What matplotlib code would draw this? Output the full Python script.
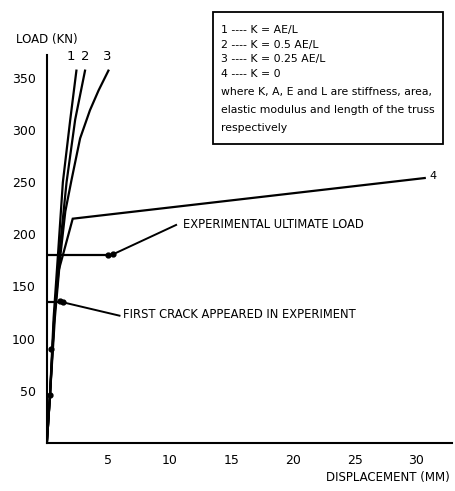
import matplotlib
matplotlib.use("Agg")
import matplotlib.pyplot as plt

# Curve data (displacement mm, load kN)
c1_x = [0, 0.25, 0.55, 0.9, 1.3, 1.9, 2.4]
c1_y = [0, 45, 120, 180, 250, 310, 357]
c2_x = [0, 0.25, 0.6, 1.0, 1.6, 2.3, 3.1]
c2_y = [0, 45, 120, 180, 250, 310, 357]
c3_x = [0, 0.25, 0.65, 1.1, 1.5, 2.0, 2.7, 3.5, 4.2, 5.0]
c3_y = [0, 45, 120, 180, 222, 252, 292, 319, 338, 357]
c4_x = [0, 0.25, 0.6, 0.95, 1.3, 2.1, 30.7]
c4_y = [0, 45, 120, 165, 180, 215, 254]

exp_x = [0.25, 0.33, 1.05, 1.3, 5.0, 5.4]
exp_y = [46, 90, 136, 135, 180, 181]

ult_load = 180
ult_disp = 5.0
crack_load = 135
crack_disp = 1.2

xticks = [5, 10, 15, 20, 25, 30]
yticks = [50, 100, 150, 200, 250, 300, 350]

legend_lines = ["1 ---- K = AE/L",
                "2 ---- K = 0.5 AE/L",
                "3 ---- K = 0.25 AE/L",
                "4 ---- K = 0",
                "where K, A, E and L are stiffness, area,",
                "elastic modulus and length of the truss",
                "respectively"]

fig = plt.figure(figsize=(4.55, 4.91), dpi=100)
ax = fig.add_axes([0.103, 0.098, 0.89, 0.79])
ax.set_xlim(0, 32.9)
ax.set_ylim(0, 372)

lw = 1.6
for xs, ys in [(c1_x, c1_y), (c2_x, c2_y), (c3_x, c3_y), (c4_x, c4_y)]:
    ax.plot(xs, ys, color="black", lw=lw, solid_joinstyle="miter")

# reference lines from axis to experimental points
ax.plot([0, ult_disp], [ult_load, ult_load], color="black", lw=lw)
ax.plot([0, crack_disp], [crack_load, crack_load], color="black", lw=lw)
ax.plot(exp_x, exp_y, "o", color="black", ms=3.5, ls="none")

# annotations
fs = 8.3
ax.plot([5.4, 10.5], [181, 209], color="black", lw=1.4)
ax.text(11.1, 209, "EXPERIMENTAL ULTIMATE LOAD", fontsize=fs, va="center", ha="left")
ax.plot([1.6, 5.9], [134, 122], color="black", lw=1.4)
ax.text(6.2, 123, "FIRST CRACK APPEARED IN EXPERIMENT", fontsize=fs, va="center", ha="left")

# curve numbers
ax.text(1.95, 364, "1", fontsize=9.5, ha="center", va="bottom")
ax.text(3.15, 364, "2", fontsize=9.5, ha="center", va="bottom")
ax.text(4.9, 364, "3", fontsize=9.5, ha="center", va="bottom")
ax.text(31.4, 256, "4", fontsize=8, ha="center", va="center")

# axes styling
for s in ["top", "right"]:
    ax.spines[s].set_visible(False)
ax.spines["left"].set_linewidth(1.5)
ax.spines["bottom"].set_linewidth(1.5)
ax.set_xticks(xticks)
ax.set_yticks(yticks)
ax.set_xticklabels([str(t) for t in xticks], fontsize=9)
ax.set_yticklabels([str(t) for t in yticks], fontsize=9)
ax.tick_params(axis="both", length=0, pad=8)

fig.text(16 / 455, 1 - 40 / 491, "LOAD (KN)", fontsize=8.5, va="center", ha="left")
fig.text(450 / 455, 1 - 477 / 491, "DISPLACEMENT (MM)", fontsize=8.5, va="center", ha="right")

# legend box
x0, y0, x1, y1 = 213 / 455, 1 - 144 / 491, 443 / 455, 1 - 12 / 491
rect = plt.Rectangle((x0, y0), x1 - x0, y1 - y0, transform=fig.transFigure,
                     fill=False, edgecolor="black", lw=1.3)
fig.add_artist(rect)
ys_px = [30, 45, 59, 74, 92, 110, 128]
for txt, yp in zip(legend_lines, ys_px):
    fig.text(221 / 455, 1 - yp / 491, txt, fontsize=7.8, va="center", ha="left")

fig.savefig("out.png", dpi=100)
